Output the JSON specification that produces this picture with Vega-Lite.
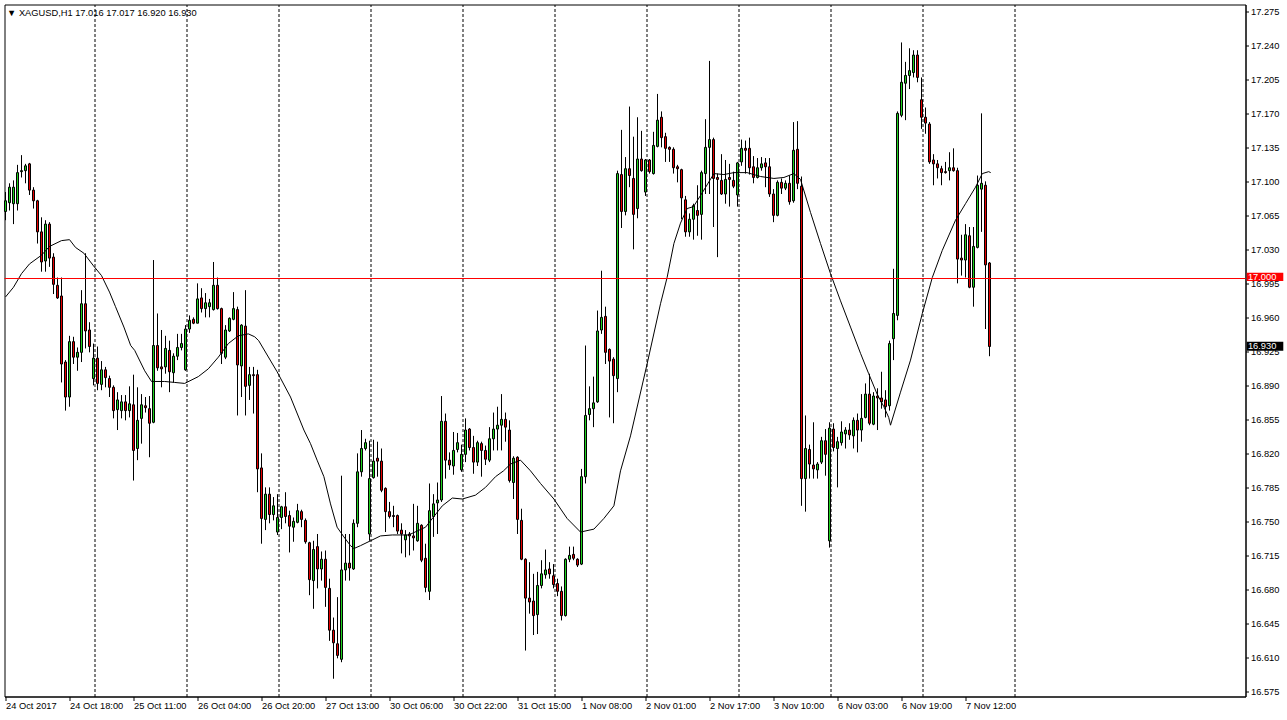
{
"$schema": "https://vega.github.io/schema/vega-lite/v6.json",
"width": 1241, "height": 692,
"autosize": {"type": "none"},
"padding": {"left": 4.5, "top": 4.5, "right": 41.5, "bottom": 23.5},
"background": "white",
"config": {"view": {"stroke": "black", "strokeWidth": 1}, "font": "Liberation Sans",
"axis": {"labelOverlap": false, "labelFont": "Liberation Sans", "labelFontSize": 9.3, "labelColor": "black", "tickColor": "black", "domainColor": "black"},
"axisY": {"labelOverlap": false, "labelFlush": false, "labelBound": false},
"scale": {"continuousPadding": 0}},
"resolve": {"axis": {"x": "independent", "y": "independent"}},
"datasets": {
"bars": [
{"t":0,"o":17.069,"h":17.089,"l":17.060,"c":17.080},
{"t":1,"o":17.078,"h":17.098,"l":17.070,"c":17.094},
{"t":2,"o":17.077,"h":17.101,"l":17.056,"c":17.094},
{"t":3,"o":17.077,"h":17.117,"l":17.070,"c":17.109},
{"t":4,"o":17.110,"h":17.127,"l":17.104,"c":17.111},
{"t":5,"o":17.111,"h":17.118,"l":17.098,"c":17.116},
{"t":6,"o":17.118,"h":17.119,"l":17.086,"c":17.091},
{"t":7,"o":17.091,"h":17.094,"l":17.072,"c":17.080},
{"t":8,"o":17.080,"h":17.081,"l":17.036,"c":17.048},
{"t":9,"o":17.048,"h":17.063,"l":17.007,"c":17.017},
{"t":10,"o":17.018,"h":17.060,"l":17.007,"c":17.056},
{"t":11,"o":17.056,"h":17.058,"l":17.012,"c":17.021},
{"t":12,"o":17.022,"h":17.026,"l":16.984,"c":16.994},
{"t":13,"o":16.993,"h":17.001,"l":16.979,"c":16.980},
{"t":14,"o":16.982,"h":17.001,"l":16.893,"c":16.912},
{"t":15,"o":16.914,"h":16.916,"l":16.864,"c":16.878},
{"t":16,"o":16.878,"h":16.941,"l":16.868,"c":16.935},
{"t":17,"o":16.935,"h":16.940,"l":16.912,"c":16.919},
{"t":18,"o":16.919,"h":16.929,"l":16.905,"c":16.924},
{"t":19,"o":16.924,"h":16.988,"l":16.914,"c":16.974},
{"t":20,"o":16.974,"h":17.026,"l":16.928,"c":16.946},
{"t":21,"o":16.947,"h":16.955,"l":16.924,"c":16.930},
{"t":22,"o":16.897,"h":16.933,"l":16.890,"c":16.918},
{"t":23,"o":16.918,"h":16.930,"l":16.885,"c":16.892},
{"t":24,"o":16.891,"h":16.915,"l":16.885,"c":16.906},
{"t":25,"o":16.906,"h":16.909,"l":16.888,"c":16.898},
{"t":26,"o":16.897,"h":16.900,"l":16.878,"c":16.888},
{"t":27,"o":16.888,"h":16.890,"l":16.856,"c":16.864},
{"t":28,"o":16.865,"h":16.883,"l":16.844,"c":16.875},
{"t":29,"o":16.864,"h":16.880,"l":16.856,"c":16.873},
{"t":30,"o":16.873,"h":16.880,"l":16.854,"c":16.864},
{"t":31,"o":16.864,"h":16.889,"l":16.857,"c":16.871},
{"t":32,"o":16.870,"h":16.901,"l":16.792,"c":16.823},
{"t":33,"o":16.825,"h":16.888,"l":16.813,"c":16.854},
{"t":34,"o":16.856,"h":16.881,"l":16.830,"c":16.870},
{"t":35,"o":16.869,"h":16.878,"l":16.862,"c":16.867},
{"t":36,"o":16.866,"h":16.879,"l":16.816,"c":16.851},
{"t":37,"o":16.852,"h":17.019,"l":16.851,"c":16.931},
{"t":38,"o":16.931,"h":16.964,"l":16.905,"c":16.908},
{"t":39,"o":16.909,"h":16.947,"l":16.888,"c":16.907},
{"t":40,"o":16.909,"h":16.941,"l":16.902,"c":16.928},
{"t":41,"o":16.926,"h":16.936,"l":16.883,"c":16.904},
{"t":42,"o":16.903,"h":16.923,"l":16.893,"c":16.920},
{"t":43,"o":16.920,"h":16.943,"l":16.916,"c":16.929},
{"t":44,"o":16.929,"h":16.943,"l":16.926,"c":16.933},
{"t":45,"o":16.906,"h":16.952,"l":16.905,"c":16.948},
{"t":46,"o":16.948,"h":16.962,"l":16.944,"c":16.957},
{"t":47,"o":16.958,"h":16.960,"l":16.953,"c":16.954},
{"t":48,"o":16.954,"h":16.995,"l":16.954,"c":16.979},
{"t":49,"o":16.980,"h":16.990,"l":16.965,"c":16.969},
{"t":50,"o":16.969,"h":16.985,"l":16.960,"c":16.975},
{"t":51,"o":16.971,"h":16.979,"l":16.960,"c":16.975},
{"t":52,"o":16.968,"h":17.017,"l":16.967,"c":16.993},
{"t":53,"o":16.993,"h":17.001,"l":16.968,"c":16.969},
{"t":54,"o":16.969,"h":16.970,"l":16.912,"c":16.923},
{"t":55,"o":16.919,"h":16.952,"l":16.917,"c":16.947},
{"t":56,"o":16.946,"h":16.960,"l":16.945,"c":16.959},
{"t":57,"o":16.958,"h":16.986,"l":16.957,"c":16.969},
{"t":58,"o":16.968,"h":16.971,"l":16.859,"c":16.911},
{"t":59,"o":16.910,"h":16.953,"l":16.878,"c":16.952},
{"t":60,"o":16.951,"h":16.988,"l":16.859,"c":16.889},
{"t":61,"o":16.890,"h":16.909,"l":16.875,"c":16.901},
{"t":62,"o":16.901,"h":16.909,"l":16.861,"c":16.900},
{"t":63,"o":16.901,"h":16.906,"l":16.780,"c":16.804},
{"t":64,"o":16.805,"h":16.820,"l":16.727,"c":16.753},
{"t":65,"o":16.752,"h":16.785,"l":16.741,"c":16.778},
{"t":66,"o":16.778,"h":16.785,"l":16.748,"c":16.757},
{"t":67,"o":16.757,"h":16.775,"l":16.751,"c":16.766},
{"t":68,"o":16.739,"h":16.778,"l":16.736,"c":16.754},
{"t":69,"o":16.754,"h":16.766,"l":16.742,"c":16.765},
{"t":70,"o":16.765,"h":16.780,"l":16.748,"c":16.755},
{"t":71,"o":16.756,"h":16.761,"l":16.718,"c":16.745},
{"t":72,"o":16.744,"h":16.754,"l":16.729,"c":16.750},
{"t":73,"o":16.749,"h":16.768,"l":16.748,"c":16.761},
{"t":74,"o":16.760,"h":16.762,"l":16.744,"c":16.752},
{"t":75,"o":16.751,"h":16.753,"l":16.727,"c":16.729},
{"t":76,"o":16.728,"h":16.729,"l":16.674,"c":16.690},
{"t":77,"o":16.689,"h":16.730,"l":16.660,"c":16.721},
{"t":78,"o":16.724,"h":16.737,"l":16.681,"c":16.701},
{"t":79,"o":16.701,"h":16.719,"l":16.689,"c":16.711},
{"t":80,"o":16.711,"h":16.720,"l":16.662,"c":16.682},
{"t":81,"o":16.681,"h":16.691,"l":16.627,"c":16.638},
{"t":82,"o":16.638,"h":16.651,"l":16.588,"c":16.625},
{"t":83,"o":16.624,"h":16.672,"l":16.609,"c":16.612},
{"t":84,"o":16.608,"h":16.797,"l":16.605,"c":16.700},
{"t":85,"o":16.700,"h":16.737,"l":16.689,"c":16.707},
{"t":86,"o":16.707,"h":16.737,"l":16.689,"c":16.702},
{"t":87,"o":16.701,"h":16.752,"l":16.700,"c":16.748},
{"t":88,"o":16.748,"h":16.820,"l":16.744,"c":16.801},
{"t":89,"o":16.801,"h":16.844,"l":16.796,"c":16.825},
{"t":90,"o":16.825,"h":16.835,"l":16.823,"c":16.831},
{"t":91,"o":16.737,"h":16.833,"l":16.730,"c":16.794},
{"t":92,"o":16.795,"h":16.834,"l":16.794,"c":16.812},
{"t":93,"o":16.815,"h":16.832,"l":16.796,"c":16.812},
{"t":94,"o":16.812,"h":16.825,"l":16.780,"c":16.782},
{"t":95,"o":16.784,"h":16.785,"l":16.739,"c":16.760},
{"t":96,"o":16.760,"h":16.770,"l":16.753,"c":16.755},
{"t":97,"o":16.756,"h":16.766,"l":16.744,"c":16.755},
{"t":98,"o":16.756,"h":16.757,"l":16.737,"c":16.740},
{"t":99,"o":16.741,"h":16.748,"l":16.717,"c":16.737},
{"t":100,"o":16.731,"h":16.741,"l":16.713,"c":16.736},
{"t":101,"o":16.737,"h":16.739,"l":16.715,"c":16.735},
{"t":102,"o":16.735,"h":16.768,"l":16.720,"c":16.733},
{"t":103,"o":16.730,"h":16.766,"l":16.729,"c":16.748},
{"t":104,"o":16.746,"h":16.747,"l":16.708,"c":16.710},
{"t":105,"o":16.712,"h":16.727,"l":16.677,"c":16.682},
{"t":106,"o":16.678,"h":16.789,"l":16.669,"c":16.761},
{"t":107,"o":16.755,"h":16.778,"l":16.734,"c":16.768},
{"t":108,"o":16.769,"h":16.790,"l":16.737,"c":16.772},
{"t":109,"o":16.772,"h":16.879,"l":16.770,"c":16.853},
{"t":110,"o":16.853,"h":16.861,"l":16.794,"c":16.813},
{"t":111,"o":16.813,"h":16.821,"l":16.803,"c":16.808},
{"t":112,"o":16.807,"h":16.842,"l":16.798,"c":16.823},
{"t":113,"o":16.824,"h":16.841,"l":16.821,"c":16.831},
{"t":114,"o":16.803,"h":16.829,"l":16.801,"c":16.819},
{"t":115,"o":16.819,"h":16.856,"l":16.811,"c":16.844},
{"t":116,"o":16.845,"h":16.846,"l":16.823,"c":16.826},
{"t":117,"o":16.826,"h":16.838,"l":16.799,"c":16.811},
{"t":118,"o":16.811,"h":16.833,"l":16.807,"c":16.831},
{"t":119,"o":16.830,"h":16.832,"l":16.796,"c":16.823},
{"t":120,"o":16.823,"h":16.828,"l":16.808,"c":16.814},
{"t":121,"o":16.813,"h":16.847,"l":16.811,"c":16.835},
{"t":122,"o":16.835,"h":16.862,"l":16.823,"c":16.845},
{"t":123,"o":16.845,"h":16.868,"l":16.823,"c":16.849},
{"t":124,"o":16.849,"h":16.881,"l":16.823,"c":16.855},
{"t":125,"o":16.855,"h":16.862,"l":16.832,"c":16.847},
{"t":126,"o":16.844,"h":16.854,"l":16.790,"c":16.792},
{"t":127,"o":16.790,"h":16.817,"l":16.773,"c":16.815},
{"t":128,"o":16.816,"h":16.817,"l":16.737,"c":16.752},
{"t":129,"o":16.751,"h":16.763,"l":16.710,"c":16.711},
{"t":130,"o":16.711,"h":16.712,"l":16.617,"c":16.671},
{"t":131,"o":16.671,"h":16.708,"l":16.655,"c":16.667},
{"t":132,"o":16.668,"h":16.696,"l":16.633,"c":16.653},
{"t":133,"o":16.654,"h":16.698,"l":16.634,"c":16.684},
{"t":134,"o":16.684,"h":16.710,"l":16.681,"c":16.696},
{"t":135,"o":16.695,"h":16.721,"l":16.691,"c":16.700},
{"t":136,"o":16.701,"h":16.708,"l":16.691,"c":16.696},
{"t":137,"o":16.694,"h":16.706,"l":16.681,"c":16.685},
{"t":138,"o":16.686,"h":16.691,"l":16.673,"c":16.678},
{"t":139,"o":16.678,"h":16.683,"l":16.648,"c":16.653},
{"t":140,"o":16.653,"h":16.712,"l":16.652,"c":16.711},
{"t":141,"o":16.711,"h":16.724,"l":16.708,"c":16.715},
{"t":142,"o":16.716,"h":16.724,"l":16.710,"c":16.712},
{"t":143,"o":16.711,"h":16.712,"l":16.703,"c":16.705},
{"t":144,"o":16.706,"h":16.804,"l":16.705,"c":16.796},
{"t":145,"o":16.796,"h":16.931,"l":16.789,"c":16.859},
{"t":146,"o":16.860,"h":16.889,"l":16.854,"c":16.866},
{"t":147,"o":16.866,"h":16.899,"l":16.847,"c":16.872},
{"t":148,"o":16.873,"h":16.967,"l":16.872,"c":16.946},
{"t":149,"o":16.947,"h":17.008,"l":16.943,"c":16.960},
{"t":150,"o":16.961,"h":16.971,"l":16.912,"c":16.924},
{"t":151,"o":16.927,"h":16.928,"l":16.857,"c":16.915},
{"t":152,"o":16.917,"h":16.919,"l":16.851,"c":16.900},
{"t":153,"o":16.897,"h":17.111,"l":16.883,"c":17.108},
{"t":154,"o":17.107,"h":17.153,"l":17.052,"c":17.069},
{"t":155,"o":17.069,"h":17.125,"l":17.065,"c":17.113},
{"t":156,"o":17.113,"h":17.177,"l":17.094,"c":17.106},
{"t":157,"o":17.103,"h":17.146,"l":17.030,"c":17.066},
{"t":158,"o":17.072,"h":17.166,"l":17.062,"c":17.123},
{"t":159,"o":17.123,"h":17.152,"l":17.110,"c":17.111},
{"t":160,"o":17.089,"h":17.123,"l":17.085,"c":17.122},
{"t":161,"o":17.122,"h":17.123,"l":17.108,"c":17.110},
{"t":162,"o":17.108,"h":17.151,"l":17.107,"c":17.137},
{"t":163,"o":17.136,"h":17.190,"l":17.135,"c":17.163},
{"t":164,"o":17.166,"h":17.172,"l":17.135,"c":17.145},
{"t":165,"o":17.146,"h":17.150,"l":17.120,"c":17.134},
{"t":166,"o":17.135,"h":17.136,"l":17.120,"c":17.133},
{"t":167,"o":17.133,"h":17.135,"l":17.108,"c":17.114},
{"t":168,"o":17.115,"h":17.117,"l":17.099,"c":17.113},
{"t":169,"o":17.112,"h":17.113,"l":17.061,"c":17.083},
{"t":170,"o":17.081,"h":17.085,"l":17.043,"c":17.048},
{"t":171,"o":17.048,"h":17.067,"l":17.043,"c":17.061},
{"t":172,"o":17.061,"h":17.077,"l":17.040,"c":17.075},
{"t":173,"o":17.070,"h":17.096,"l":17.044,"c":17.065},
{"t":174,"o":17.066,"h":17.111,"l":17.040,"c":17.109},
{"t":175,"o":17.108,"h":17.164,"l":17.087,"c":17.135},
{"t":176,"o":17.135,"h":17.224,"l":17.087,"c":17.143},
{"t":177,"o":17.143,"h":17.145,"l":17.053,"c":17.103},
{"t":178,"o":17.104,"h":17.108,"l":17.022,"c":17.102},
{"t":179,"o":17.101,"h":17.128,"l":17.086,"c":17.087},
{"t":180,"o":17.087,"h":17.122,"l":17.077,"c":17.102},
{"t":181,"o":17.104,"h":17.118,"l":17.074,"c":17.102},
{"t":182,"o":17.101,"h":17.110,"l":17.093,"c":17.095},
{"t":183,"o":17.086,"h":17.120,"l":17.074,"c":17.119},
{"t":184,"o":17.120,"h":17.143,"l":17.116,"c":17.134},
{"t":185,"o":17.134,"h":17.142,"l":17.108,"c":17.132},
{"t":186,"o":17.134,"h":17.145,"l":17.107,"c":17.114},
{"t":187,"o":17.115,"h":17.126,"l":17.098,"c":17.104},
{"t":188,"o":17.104,"h":17.124,"l":17.103,"c":17.114},
{"t":189,"o":17.114,"h":17.125,"l":17.111,"c":17.118},
{"t":190,"o":17.119,"h":17.124,"l":17.094,"c":17.115},
{"t":191,"o":17.115,"h":17.124,"l":17.084,"c":17.087},
{"t":192,"o":17.087,"h":17.092,"l":17.058,"c":17.065},
{"t":193,"o":17.065,"h":17.101,"l":17.064,"c":17.099},
{"t":194,"o":17.099,"h":17.103,"l":17.087,"c":17.093},
{"t":195,"o":17.093,"h":17.101,"l":17.091,"c":17.098},
{"t":196,"o":17.098,"h":17.106,"l":17.076,"c":17.079},
{"t":197,"o":17.080,"h":17.161,"l":17.078,"c":17.132},
{"t":198,"o":17.133,"h":17.162,"l":17.092,"c":17.098},
{"t":199,"o":17.095,"h":17.105,"l":16.766,"c":16.794},
{"t":200,"o":16.794,"h":16.859,"l":16.760,"c":16.825},
{"t":201,"o":16.824,"h":16.829,"l":16.794,"c":16.809},
{"t":202,"o":16.808,"h":16.852,"l":16.794,"c":16.804},
{"t":203,"o":16.803,"h":16.811,"l":16.794,"c":16.809},
{"t":204,"o":16.811,"h":16.837,"l":16.809,"c":16.833},
{"t":205,"o":16.833,"h":16.845,"l":16.797,"c":16.819},
{"t":206,"o":16.730,"h":16.852,"l":16.723,"c":16.846},
{"t":207,"o":16.845,"h":16.851,"l":16.822,"c":16.826},
{"t":208,"o":16.825,"h":16.837,"l":16.785,"c":16.832},
{"t":209,"o":16.831,"h":16.853,"l":16.828,"c":16.842},
{"t":210,"o":16.840,"h":16.847,"l":16.825,"c":16.844},
{"t":211,"o":16.844,"h":16.851,"l":16.834,"c":16.839},
{"t":212,"o":16.838,"h":16.857,"l":16.825,"c":16.854},
{"t":213,"o":16.854,"h":16.861,"l":16.821,"c":16.844},
{"t":214,"o":16.844,"h":16.881,"l":16.832,"c":16.856},
{"t":215,"o":16.857,"h":16.892,"l":16.856,"c":16.881},
{"t":216,"o":16.881,"h":16.902,"l":16.849,"c":16.851},
{"t":217,"o":16.850,"h":16.883,"l":16.849,"c":16.879},
{"t":218,"o":16.879,"h":16.887,"l":16.844,"c":16.877},
{"t":219,"o":16.877,"h":16.904,"l":16.866,"c":16.873},
{"t":220,"o":16.875,"h":16.885,"l":16.857,"c":16.868},
{"t":221,"o":16.869,"h":16.936,"l":16.864,"c":16.933},
{"t":222,"o":16.938,"h":17.010,"l":16.916,"c":16.964},
{"t":223,"o":16.962,"h":17.172,"l":16.957,"c":17.170},
{"t":224,"o":17.168,"h":17.243,"l":17.166,"c":17.202},
{"t":225,"o":17.201,"h":17.223,"l":17.163,"c":17.209},
{"t":226,"o":17.209,"h":17.237,"l":17.195,"c":17.214},
{"t":227,"o":17.212,"h":17.235,"l":17.207,"c":17.230},
{"t":228,"o":17.230,"h":17.235,"l":17.202,"c":17.207},
{"t":229,"o":17.184,"h":17.207,"l":17.154,"c":17.166},
{"t":230,"o":17.166,"h":17.176,"l":17.149,"c":17.160},
{"t":231,"o":17.159,"h":17.161,"l":17.118,"c":17.120},
{"t":232,"o":17.122,"h":17.128,"l":17.096,"c":17.118},
{"t":233,"o":17.118,"h":17.122,"l":17.103,"c":17.114},
{"t":234,"o":17.113,"h":17.116,"l":17.096,"c":17.109},
{"t":235,"o":17.110,"h":17.120,"l":17.108,"c":17.109},
{"t":236,"o":17.111,"h":17.130,"l":17.101,"c":17.114},
{"t":237,"o":17.114,"h":17.134,"l":17.110,"c":17.111},
{"t":238,"o":17.111,"h":17.114,"l":16.995,"c":17.020},
{"t":239,"o":17.021,"h":17.045,"l":17.003,"c":17.019},
{"t":240,"o":17.019,"h":17.056,"l":17.001,"c":17.045},
{"t":241,"o":17.044,"h":17.053,"l":16.990,"c":16.991},
{"t":242,"o":16.991,"h":17.053,"l":16.971,"c":17.033},
{"t":243,"o":17.032,"h":17.106,"l":17.031,"c":17.096},
{"t":244,"o":17.092,"h":17.170,"l":17.048,"c":17.098},
{"t":245,"o":17.096,"h":17.100,"l":16.948,"c":17.014},
{"t":246,"o":17.016,"h":17.017,"l":16.920,"c":16.930}
],
"ma": [
{"t":0,"v":16.981},{"t":2,"v":16.991},{"t":4,"v":17.005},{"t":6,"v":17.015},{"t":9,"v":17.024},{"t":11,"v":17.033},{"t":14,"v":17.039},{"t":16,"v":17.040},{"t":17.5,"v":17.032},{"t":19.6,"v":17.026},{"t":22,"v":17.013},{"t":24,"v":17.003},{"t":26,"v":16.986},{"t":27.5,"v":16.971},{"t":29.6,"v":16.950},{"t":31.3,"v":16.931},{"t":32.3,"v":16.926},{"t":34.8,"v":16.905},{"t":36.5,"v":16.894},{"t":39.8,"v":16.894},{"t":42.3,"v":16.893},{"t":44.8,"v":16.892},{"t":48.2,"v":16.899},{"t":50.7,"v":16.907},{"t":53.2,"v":16.919},{"t":55.7,"v":16.933},{"t":58.2,"v":16.941},{"t":60.7,"v":16.943},{"t":62.3,"v":16.940},{"t":63.3,"v":16.936},{"t":67.9,"v":16.904},{"t":71.25,"v":16.878},{"t":74.6,"v":16.844},{"t":76.25,"v":16.830},{"t":77.9,"v":16.813},{"t":79.6,"v":16.796},{"t":81.25,"v":16.768},{"t":82.9,"v":16.744},{"t":84.6,"v":16.734},{"t":86.25,"v":16.725},{"t":87.1,"v":16.722},{"t":88.75,"v":16.725},{"t":91.25,"v":16.730},{"t":93.75,"v":16.735},{"t":96.7,"v":16.736},{"t":100.8,"v":16.736},{"t":105,"v":16.744},{"t":109.2,"v":16.766},{"t":111.7,"v":16.774},{"t":114.2,"v":16.773},{"t":117.5,"v":16.777},{"t":120,"v":16.785},{"t":122.5,"v":16.796},{"t":124.5,"v":16.802},{"t":126.25,"v":16.809},{"t":128.75,"v":16.813},{"t":131.25,"v":16.802},{"t":133.75,"v":16.789},{"t":137.1,"v":16.773},{"t":140.4,"v":16.753},{"t":143.75,"v":16.739},{"t":147.1,"v":16.742},{"t":149.6,"v":16.753},{"t":152.1,"v":16.766},{"t":153.75,"v":16.802},{"t":156.25,"v":16.838},{"t":160.4,"v":16.912},{"t":163.75,"v":16.974},{"t":165.4,"v":17.001},{"t":167.1,"v":17.036},{"t":168.75,"v":17.057},{"t":170.4,"v":17.072},{"t":172,"v":17.074},{"t":174.6,"v":17.091},{"t":177.1,"v":17.108},{"t":179.6,"v":17.107},{"t":182.1,"v":17.109},{"t":185.4,"v":17.109},{"t":188.75,"v":17.105},{"t":192.1,"v":17.103},{"t":194.6,"v":17.104},{"t":197.1,"v":17.108},{"t":198.75,"v":17.102},{"t":201.25,"v":17.068},{"t":203.75,"v":17.036},{"t":206.25,"v":17.005},{"t":208.75,"v":16.977},{"t":211.25,"v":16.950},{"t":213.75,"v":16.923},{"t":215.8,"v":16.902},{"t":217.9,"v":16.881},{"t":219.6,"v":16.868},{"t":220.8,"v":16.857},{"t":221.25,"v":16.849},{"t":223.75,"v":16.883},{"t":226.25,"v":16.916},{"t":229.2,"v":16.964},{"t":231.7,"v":17.001},{"t":234.2,"v":17.029},{"t":237.5,"v":17.060},{"t":240,"v":17.077},{"t":242.5,"v":17.094},{"t":244.2,"v":17.108},{"t":245.8,"v":17.110},{"t":246.3,"v":17.109}
]
},
"layer": [
{
"data": {"name": "bars"},
"mark": {"type": "rule", "color": "black", "strokeWidth": 1},
"encoding": {
"x": {"field": "t", "type": "quantitative",
"scale": {"domain": [-0.25, 310], "nice": false, "zero": false, "padding": 0},
"axis": {"orient": "bottom", "values": [0,16,32,48,64,80,96,112,128,144,160,176,192,208,224,240],
"labelExpr": "['24 Oct 2017','24 Oct 18:00','25 Oct 11:00','26 Oct 04:00','26 Oct 20:00','27 Oct 13:00','30 Oct 06:00','30 Oct 22:00','31 Oct 15:00','1 Nov 08:00','2 Nov 01:00','2 Nov 17:00','3 Nov 10:00','6 Nov 03:00','6 Nov 19:00','7 Nov 12:00'][round(datum.value/16)]",
"labelAlign": "left", "labelBaseline": "top", "labelPadding": 1, "tickSize": 4,
"grid": false, "title": null, "labelOverlap": false, "labelFlush": false, "labelBound": false}},
"y": {"field": "l", "type": "quantitative",
"scale": {"domain": [16.56971, 17.28206], "nice": false, "zero": false, "padding": 0},
"axis": {"orient": "right", "values": [16.575,16.61,16.645,16.68,16.715,16.75,16.785,16.82,16.855,16.89,16.925,16.96,16.995,17.03,17.065,17.1,17.135,17.17,17.205,17.24,17.275],
"format": ".3f", "tickSize": 3, "labelPadding": 2, "grid": false, "title": null,
"labelOverlap": false, "labelSeparation": 0, "labelFlush": false, "labelBaseline": "middle"}},
"y2": {"field": "h"}
}
},
{
"data": {"name": "bars"},
"mark": {"type": "bar", "size": 2, "stroke": "black", "strokeWidth": 1},
"encoding": {
"x": {"field": "t", "type": "quantitative",
"axis": {"orient": "top", "values": [22.25,45.25,68.25,91.25,114.25,137.25,160.25,183.25,206.25,229.25,252.25],
"grid": true, "gridColor": "black", "gridDash": [3,2], "gridWidth": 1, "gridOpacity": 1,
"labels": false, "ticks": false, "domain": false, "title": null}},
"y": {"field": "o", "type": "quantitative", "axis": null},
"y2": {"field": "c"},
"fill": {"condition": {"test": "datum.c >= datum.o", "value": "#1ed21e"}, "value": "#e60000"}
}
},
{
"data": {"name": "ma"},
"mark": {"type": "line", "color": "black", "strokeWidth": 1},
"encoding": {
"x": {"field": "t", "type": "quantitative", "axis": null},
"y": {"field": "v", "type": "quantitative", "axis": null}
}
},
{
"data": {"values": [{}]},
"mark": {"type": "rule", "color": "#ff0000", "strokeWidth": 1},
"encoding": {"y": {"datum": 17.0, "type": "quantitative", "axis": null}}
},
{
"data": {"values": [{}]},
"mark": {"type": "rect", "color": "#ff0000", "clip": false},
"encoding": {
"x": {"datum": 310.3, "type": "quantitative", "axis": null}, "x2": {"datum": 319.45},
"y": {"datum": 17.00597, "type": "quantitative", "axis": null}, "y2": {"datum": 16.99742}
}
},
{
"data": {"values": [{}]},
"mark": {"type": "text", "text": "17.000", "color": "white", "align": "left", "baseline": "middle", "font": "Liberation Sans", "fontSize": 9.3, "clip": false},
"encoding": {
"x": {"datum": 310.6, "type": "quantitative", "axis": null},
"y": {"datum": 17.00154, "type": "quantitative", "axis": null}
}
},
{
"data": {"values": [{}]},
"mark": {"type": "rect", "color": "black", "clip": false},
"encoding": {
"x": {"datum": 310.3, "type": "quantitative", "axis": null}, "x2": {"datum": 319.45},
"y": {"datum": 16.93494, "type": "quantitative", "axis": null}, "y2": {"datum": 16.92568}
}
},
{
"data": {"values": [{}]},
"mark": {"type": "text", "text": "16.930", "color": "white", "align": "left", "baseline": "middle", "font": "Liberation Sans", "fontSize": 9.3, "clip": false},
"encoding": {
"x": {"datum": 310.6, "type": "quantitative", "axis": null},
"y": {"datum": 16.93031, "type": "quantitative", "axis": null}
}
},
{
"data": {"values": [{}]},
"mark": {"type": "text", "text": "▼ XAGUSD,H1  17.016 17.017 16.920 16.930", "color": "black", "align": "left", "baseline": "middle", "font": "Liberation Sans", "fontSize": 9.3},
"encoding": {
"x": {"datum": 0.4, "type": "quantitative", "axis": null},
"y": {"datum": 17.27331, "type": "quantitative", "axis": null}
}
}
]
}
